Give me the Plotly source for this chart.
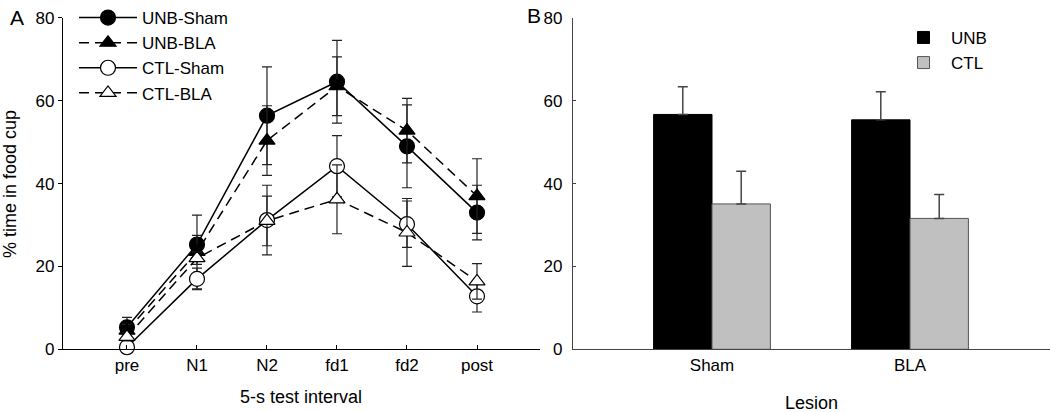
import plotly.graph_objects as go

W, H = 1050, 412

# ---------- Panel A data ----------
intervals = ["pre", "N1", "N2", "fd1", "fd2", "post"]
unb_sham = [5.3, 25.3, 56.4, 64.6, 49.0, 33.0]
unb_sham_err = [2.4, 2.2, 11.8, 10.0, 10.0, 6.6]
unb_bla = [4.5, 23.5, 50.4, 63.5, 52.8, 37.0]
unb_bla_err = [1.5, 8.9, 8.4, 7.1, 7.8, 9.0]
ctl_sham = [0.5, 17.0, 31.2, 44.2, 30.2, 12.8]
ctl_sham_err = [0.7, 2.6, 8.4, 7.4, 5.6, 3.8]
ctl_bla = [3.0, 22.0, 31.0, 36.2, 28.2, 16.4]
ctl_bla_err = [1.0, 1.5, 6.0, 8.3, 8.2, 4.3]

# ---------- Panel B data ----------
lesions = ["Sham", "BLA"]
unb_bar = [56.7, 55.4]
unb_bar_err = [6.7, 6.8]
ctl_bar = [35.1, 31.6]
ctl_bar_err = [7.9, 5.8]

yticks = [0, 20, 40, 60, 80]

FONT = "Liberation Sans, Arial, sans-serif"

fig = go.Figure()

def line_trace(name, y, err, symbol, fill, dash):
    return go.Scatter(
        x=intervals, y=y, name=name, mode="lines+markers",
        line=dict(color="black", width=1.5, dash=dash),
        marker=dict(symbol=symbol, size=15 if "circle" in symbol else 14,
                    color="black" if fill else "white",
                    line=dict(color="black", width=1.2)),
        error_y=dict(type="data", array=err, visible=True, color="#222",
                     thickness=1.2, width=5),
        cliponaxis=False, xaxis="x", yaxis="y", legend="legend",
    )

fig.add_trace(line_trace("UNB-Sham", unb_sham, unb_sham_err, "circle", True, "solid"))
fig.add_trace(line_trace("UNB-BLA", unb_bla, unb_bla_err, "triangle-up", True, "10px,6px"))
fig.add_trace(line_trace("CTL-Sham", ctl_sham, ctl_sham_err, "circle", False, "solid"))
fig.add_trace(line_trace("CTL-BLA", ctl_bla, ctl_bla_err, "triangle-up", False, "10px,6px"))

fig.add_trace(go.Bar(
    x=lesions, y=unb_bar, name="UNB", xaxis="x2", yaxis="y2", legend="legend2",
    marker=dict(color="black", line=dict(color="black", width=1)),
    error_y=dict(type="data", array=unb_bar_err, arrayminus=[0, 0], symmetric=False,
                 visible=True, color="#444", thickness=1.5, width=5),
))
fig.add_trace(go.Bar(
    x=lesions, y=ctl_bar, name="CTL", xaxis="x2", yaxis="y2", legend="legend2",
    marker=dict(color="#c0c0c0", line=dict(color="#555", width=1)),
    error_y=dict(type="data", array=ctl_bar_err, arrayminus=[0, 0], symmetric=False,
                 visible=True, color="#444", thickness=1.5, width=5),
))

ytop = 1 - 16 / H
ybot = 1 - 349 / H

axis_common = dict(showgrid=False, zeroline=False, showline=True, automargin=False,
                   tickfont=dict(family=FONT, size=17, color="black"))

fig.update_layout(
    width=W, height=H,
    margin=dict(l=0, r=0, t=0, b=0),
    paper_bgcolor="white", plot_bgcolor="white",
    font=dict(family=FONT, size=17, color="black"),
    barmode="group", bargap=0.41, bargroupgap=0,
    xaxis=dict(domain=[63 / W, 540 / W], range=[-0.914, 5.9], type="category",
               linecolor="black", linewidth=1.2, ticks="inside", ticklen=4,
               tickcolor="black", anchor="y", **axis_common),
    yaxis=dict(domain=[ybot, ytop], range=[0, 80], tickvals=yticks,
               linecolor="black", linewidth=1.2, ticks="outside", ticklen=4,
               tickcolor="black", anchor="x", **axis_common),
    xaxis2=dict(domain=[573 / W, 1.0], range=[-0.702, 1.707], type="category",
                linecolor="#444", linewidth=1.2, ticks="", anchor="y2", **axis_common),
    yaxis2=dict(domain=[ybot, ytop], range=[0, 80], tickvals=yticks,
                linecolor="#444", linewidth=1.2, ticks="inside", ticklen=3,
                tickcolor="#444", anchor="x2", ticklabelstandoff=6, **axis_common),
    legend=dict(x=74 / W, y=1 + 2 / H, xanchor="left", yanchor="top",
                bgcolor="rgba(0,0,0,0)", font=dict(family=FONT, size=17),
                itemwidth=58, tracegroupgap=0, itemsizing="trace"),
    legend2=dict(x=896 / W, y=1 - 18 / H, xanchor="left", yanchor="top",
                 bgcolor="rgba(0,0,0,0)", font=dict(family=FONT, size=17),
                 itemwidth=45, tracegroupgap=0),
    showlegend=True,
)

annotations = [
    dict(text="A", x=8 / W, y=1 - 16 / H, xanchor="left", yanchor="middle", font=dict(size=21)),
    dict(text="B", x=525 / W, y=1 - 14 / H, xanchor="left", yanchor="middle", font=dict(size=21)),
    dict(text="5-s test interval", x=301 / W, y=1 - 397 / H, xanchor="center", yanchor="middle",
         font=dict(size=18)),
    dict(text="Lesion", x=811 / W, y=1 - 403 / H, xanchor="center", yanchor="middle",
         font=dict(size=18)),
    dict(text="% time in food cup", x=10 / W, y=1 - 183 / H, xanchor="center", yanchor="middle",
         textangle=-90, font=dict(size=18)),
]
for a in annotations:
    a.update(xref="paper", yref="paper", showarrow=False)
    a["font"].update(family=FONT, color="black")
fig.update_layout(annotations=annotations)

fig.write_html(
    "out.html",
    config={"displayModeBar": False},
    post_script="document.body.style.margin='0px';document.body.style.overflow='hidden';",
)
